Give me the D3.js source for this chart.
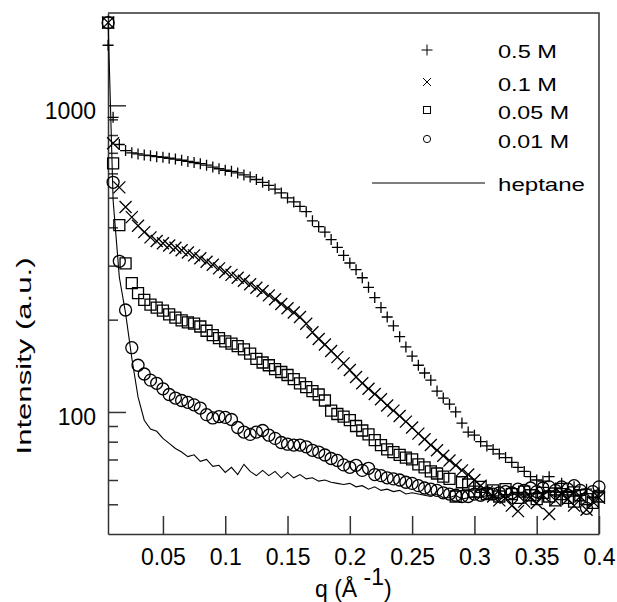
<!DOCTYPE html>
<html>
<head>
<meta charset="utf-8">
<script src="https://cdn.jsdelivr.net/npm/d3@7"></script>
<style>
  body { margin: 0; background: #fff; }
  svg { display: block; font-family: "Liberation Sans", Arial, sans-serif; }
</style>
</head>
<body>
<svg id="chart" width="617" height="602"></svg>
<script>
// scattering vector q (1/A), shared by all curves
const q = [
  0.006, 0.010, 0.015, 0.020, 0.025, 0.030, 0.035, 0.040, 0.045, 0.050,
  0.055, 0.060, 0.065, 0.070, 0.075, 0.080, 0.085, 0.090, 0.095, 0.100,
  0.105, 0.110, 0.115, 0.120, 0.125, 0.130, 0.135, 0.140, 0.145, 0.150,
  0.155, 0.160, 0.165, 0.170, 0.175, 0.180, 0.185, 0.190, 0.195, 0.200,
  0.205, 0.210, 0.215, 0.220, 0.225, 0.230, 0.235, 0.240, 0.245, 0.250,
  0.255, 0.260, 0.265, 0.270, 0.275, 0.280, 0.285, 0.290, 0.295, 0.300,
  0.305, 0.310, 0.315, 0.320, 0.325, 0.330, 0.335, 0.340, 0.345, 0.350,
  0.355, 0.360, 0.365, 0.370, 0.375, 0.380, 0.385, 0.390, 0.395, 0.400
];

// intensities (a.u.)
const m05 = [
  1570, 914, 745, 712, 700, 694, 688, 685, 680, 677,
  672, 668, 662, 656, 651, 645, 638, 629, 621, 614,
  609, 602, 593, 584, 573, 561, 548, 533, 518, 499,
  484, 468, 450, 420, 402, 386, 365, 344, 324, 306,
  291, 274, 255, 236, 219, 204, 191, 176, 163, 152,
  142, 134, 127, 117, 111, 106, 100, 92, 86, 84,
  80, 77.5, 75.5, 73, 71, 68.5, 66, 64, 61.5, 60,
  59.5, 61.5, 56.5, 58.5, 55, 57, 53.5, 56, 52.5, 54.5
];
const m01 = [
  1860, 752, 540, 466, 432, 405, 386, 371, 361, 355,
  349, 343, 337, 331, 324, 317, 309, 302, 294, 286,
  280, 274, 268, 261, 254, 248, 240, 233, 225, 218,
  211, 204, 194, 182, 173, 166, 158, 151, 144, 137,
  130, 124, 119, 114.5, 110, 105, 101, 97, 93, 89,
  85, 81.5, 78, 75, 72, 69.5, 67, 64.5, 62.5, 60,
  57.5, 55, 53, 51.5, 52.5, 49.5, 47.5, 51, 52.5, 50.5,
  53.5, 46.5, 51.5, 54, 52, 49.5, 53, 48, 51, 52.5
];
const m005 = [
  1860, 647, 407, 305, 263, 244, 232, 224, 219, 214,
  208, 203, 199, 196, 194, 190, 184, 178, 174, 170,
  167, 164, 160, 155, 149, 145, 142, 138, 135, 132,
  128, 124, 120.5, 117, 114, 109, 101, 98.5, 96.5, 94,
  90, 87, 84.5, 81, 78, 75.5, 74, 72.5, 71, 70,
  67.5, 66, 64, 63, 61.5, 60.5, 53, 59, 58, 55,
  57, 54, 55.5, 53, 56, 54, 52.5, 55, 53.5, 52,
  54.5, 53, 51.5, 54, 52.5, 51, 53.5, 52, 50.5, 53
];
const m001 = [
  1860, 561, 310, 215, 162, 142, 133, 127, 124, 119,
  114, 111, 109, 107.5, 105.5, 103, 98, 95.6, 96.5, 96,
  94.5, 89, 86, 84.5, 86, 87, 84, 82, 79.5, 78.5,
  78, 78, 77, 75, 74, 72.4, 70.5, 69.5, 67.2, 66,
  67, 64.5, 65.5, 62.5, 62, 61, 60.5, 60, 59, 58.5,
  57.5, 56.5, 56, 55.5, 54.5, 54, 53.5, 53, 53, 54,
  53.5, 54.5, 54, 54.5, 55, 54.5, 56, 55.5, 56.5, 55,
  56.5, 57, 55.5, 57, 56, 57.5, 55.5, 48.5, 55, 57
];
const heptane = [
  1860, 490, 275, 210, 150, 112, 94, 88, 86.5, 82,
  79, 76, 74, 71.5, 72.5, 69, 70, 66.5, 67, 63.5,
  66, 62.5, 67.5, 64, 62, 64.5, 62, 64, 61, 63.5,
  61, 62.5, 60.5, 61, 59.5, 60, 59, 58.5, 58, 58.5,
  57, 57.5, 56, 57, 55.5, 56, 55, 55.5, 54, 54.5,
  54, 53.5, 53, 54, 52.5, 52.5, 53.5, 52, 52.5, 53,
  52.5, 53.5, 53, 52.5, 54, 53.5, 54.5, 53.5, 54, 55,
  54.5, 55.5, 54.5, 55, 56, 55, 55.5, 56.5, 55, 56
];

const xTicks = [0.05, 0.1, 0.15, 0.2, 0.25, 0.3, 0.35, 0.4];
const yMajor = [100, 1000];
const yMinor = [50, 60, 70, 80, 90, 200, 300, 400, 500, 600, 700, 800, 900];
const legendLabels = ["0.5 M", "0.1 M", "0.05 M", "0.01 M", "heptane"];

// marker shapes, centred on 0,0
const shapes = {
  plus: "M-5.5,0H5.5M0,-5.5V5.5",
  cross: "M-6,-6L6,6M-6,6L6,-6",
  square: "M-5.5,-5.5h11v11h-11z",
  circle: "M6,0A6,6 0 1,1 -6,0A6,6 0 1,1 6,0z"
};

const svg = d3.select("#chart");
const ink = "#000";
const frame = "#333";

const x = d3.scaleLinear().domain([0.0059, 0.4]).range([108, 599]);
const y = d3.scaleLog().domain([40, 2000]).range([534, 13]);

// x axis, ticks pointing up into the plot
const gx = svg.append("g")
  .attr("transform", "translate(0,534)")
  .call(d3.axisBottom(x).tickValues(xTicks).tickSizeInner(-18).tickSizeOuter(0)
    .tickFormat(d => String(d)));
gx.selectAll("text").attr("y", 31).attr("dy", null)
  .attr("font-size", 23).attr("fill", "#000").attr("font-family", null);
gx.selectAll("line").attr("stroke", frame).attr("stroke-width", 1.5);
gx.select(".domain").attr("stroke", frame).attr("stroke-width", 1.5);

// y axis, log, major + minor ticks pointing right
const gy = svg.append("g")
  .attr("transform", "translate(108,0)")
  .call(d3.axisLeft(y).tickValues(yMajor.concat(yMinor)).tickSizeInner(-10).tickSizeOuter(0)
    .tickFormat(d => yMajor.includes(d) ? String(d) : ""));
gy.selectAll(".tick line")
  .attr("x2", d => yMajor.includes(d) ? 18 : 10)
  .attr("stroke", frame).attr("stroke-width", 1.5);
gy.selectAll("text").attr("x", -12).attr("y", 13).attr("dy", null)
  .attr("font-size", 23).attr("fill", "#000").attr("font-family", null);
gy.select(".domain").attr("stroke", frame).attr("stroke-width", 1.5);

// top and right frame
svg.append("path")
  .attr("d", `M108,13H599V534`)
  .attr("fill", "none").attr("stroke", frame).attr("stroke-width", 1.5);

// axis titles
svg.append("text")
  .attr("transform", "translate(31,356) rotate(-90)")
  .attr("text-anchor", "middle")
  .attr("font-size", 20)
  .attr("textLength", 197).attr("lengthAdjust", "spacingAndGlyphs")
  .text("Intensity (a.u.)");

const xt = svg.append("text").attr("x", 315).attr("y", 597).attr("font-size", 23);
xt.append("tspan").text("q (Å ");
xt.append("tspan").attr("dy", -12).text("-1");
xt.append("tspan").attr("dy", 12).text(")");

// data
const series = [
  { vals: m05, shape: "plus" },
  { vals: m01, shape: "cross" },
  { vals: m005, shape: "square" },
  { vals: m001, shape: "circle" }
];

svg.append("path")
  .datum(q.map((d, i) => [d, heptane[i]]))
  .attr("fill", "none").attr("stroke", ink).attr("stroke-width", 1.1)
  .attr("d", d3.line().x(d => x(d[0])).y(d => y(d[1])));

series.forEach(s => {
  svg.append("g").selectAll("path")
    .data(q.map((d, i) => [d, s.vals[i]]))
    .join("path")
    .attr("transform", d => `translate(${x(d[0])},${y(d[1])})`)
    .attr("d", shapes[s.shape])
    .attr("fill", "none").attr("stroke", ink).attr("stroke-width", 1.3);
});

// legend
const legendY = [50, 82, 110, 139];
const legendScale = [1, 0.66, 0.64, 0.6];
series.forEach((s, i) => {
  svg.append("path")
    .attr("transform", `translate(427,${legendY[i]}) scale(${legendScale[i]})`)
    .attr("d", shapes[s.shape])
    .attr("fill", "none").attr("stroke", ink)
    .attr("stroke-width", 1 / legendScale[i]);
});
svg.append("line")
  .attr("x1", 372).attr("x2", 485).attr("y1", 183).attr("y2", 183)
  .attr("stroke", ink).attr("stroke-width", 1);

const legendBase = [58, 90.5, 118.5, 147.5, 190.5];
const legendLen = [59, 59, 71, 71, 87];
legendLabels.forEach((t, i) => {
  svg.append("text")
    .attr("x", 498).attr("y", legendBase[i])
    .attr("font-size", 19)
    .attr("textLength", legendLen[i]).attr("lengthAdjust", "spacingAndGlyphs")
    .text(t);
});
</script>
</body>
</html>
